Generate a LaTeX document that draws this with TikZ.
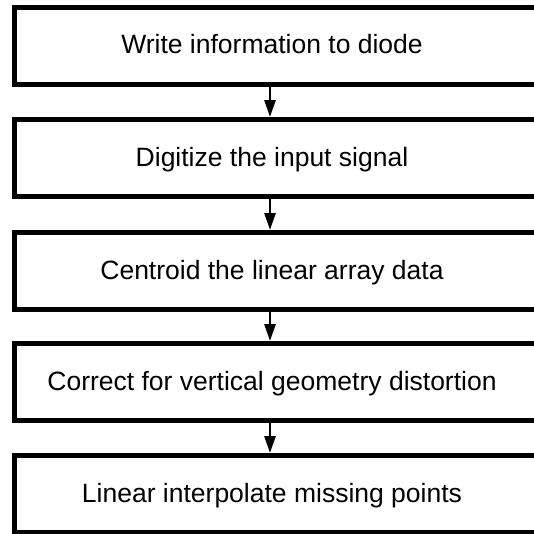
\documentclass[tikz,border=0pt]{standalone}
\usepackage{fontspec}
\setmainfont{Liberation Sans}
\usetikzlibrary{arrows.meta}

\begin{document}
\begin{tikzpicture}[x=1pt,y=-1pt,
  stepbox/.style={draw,line width=5pt,minimum width=545pt,minimum height=77pt,inner sep=0pt},
  steptext/.style={font=\fontsize{26.5}{31}\selectfont,inner sep=0pt,anchor=base},
  flow/.style={line width=2.8pt,-{Triangle[width=11pt,length=17pt]}}]
  \useasboundingbox(0,0)rectangle(534,533);
  \clip(0,0)rectangle(534,533);
  \coordinate(ax)at(270,0);
  \foreach \i/\yc/\lab in {1/45.5/Write information to diode,
      2/158/Digitize the input signal,
      3/271/Centroid the linear array data,
      4/382/Correct for vertical geometry distortion,
      5/494/Linear interpolate missing points}{
    \node[stepbox](s\i)at(287,\yc){};
    \node[steptext](t\i)at(272,\yc+8){\lab};
  }
  \foreach \i/\j in {1/2,2/3,3/4,4/5}
    \draw[flow](s\i.south-|ax)--(s\j.north-|ax);
\end{tikzpicture}
\end{document}
